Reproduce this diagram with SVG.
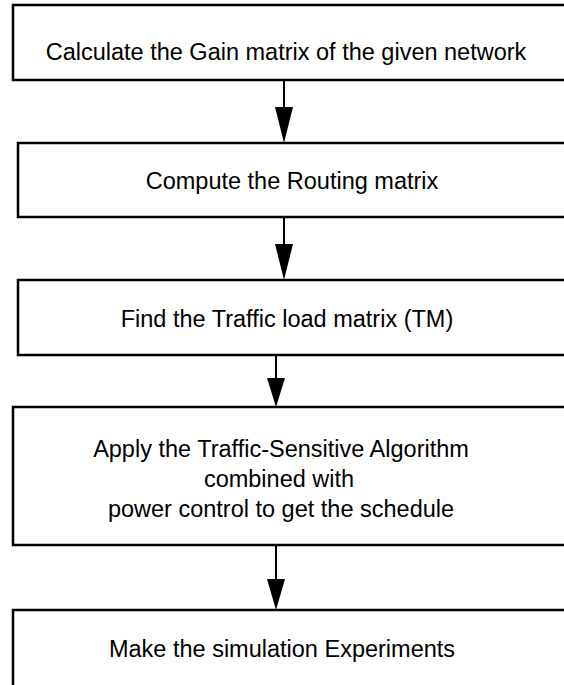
<svg xmlns="http://www.w3.org/2000/svg" width="564" height="685" viewBox="0 0 564 685">
<style>
.box{fill:#fff;stroke:#000;stroke-width:2.5}
.t{font-family:"Liberation Sans",Arial,sans-serif;font-size:23.5px;fill:#000;text-anchor:middle}
.c{stroke:#000;stroke-width:2;fill:none}
.h{fill:#000}
</style>
<g id="connectors">
<line class="c" x1="284" y1="80" x2="284" y2="110"/><path class="h" d="M275,107 L293,107 L284,143 Z"/>
<line class="c" x1="284" y1="217" x2="284" y2="247"/><path class="h" d="M275,244 L293,244 L284,280 Z"/>
<line class="c" x1="276" y1="355" x2="276" y2="382"/><path class="h" d="M267,378 L285,378 L276,407 Z"/>
<line class="c" x1="276" y1="545" x2="276" y2="582"/><path class="h" d="M267,579 L285,579 L276,610 Z"/>
</g>
<g id="n1"><rect class="box" x="13" y="5" width="570" height="75"/><text class="t" x="286" y="60">Calculate the Gain matrix of the given network</text></g>
<g id="n2"><rect class="box" x="18" y="143" width="570" height="74"/><text class="t" x="292" y="189">Compute the Routing matrix</text></g>
<g id="n3"><rect class="box" x="18" y="280" width="570" height="75"/><text class="t" x="287" y="327">Find the Traffic load matrix (TM)</text></g>
<g id="n4"><rect class="box" x="13" y="407" width="570" height="138"/><text class="t" x="281" y="457">Apply the Traffic-Sensitive Algorithm</text><text class="t" x="279" y="487">combined with</text><text class="t" x="281" y="517">power control to get the schedule</text></g>
<g id="n5"><rect class="box" x="13" y="610" width="570" height="100"/><text class="t" x="282" y="657">Make the simulation Experiments</text></g>
</svg>
